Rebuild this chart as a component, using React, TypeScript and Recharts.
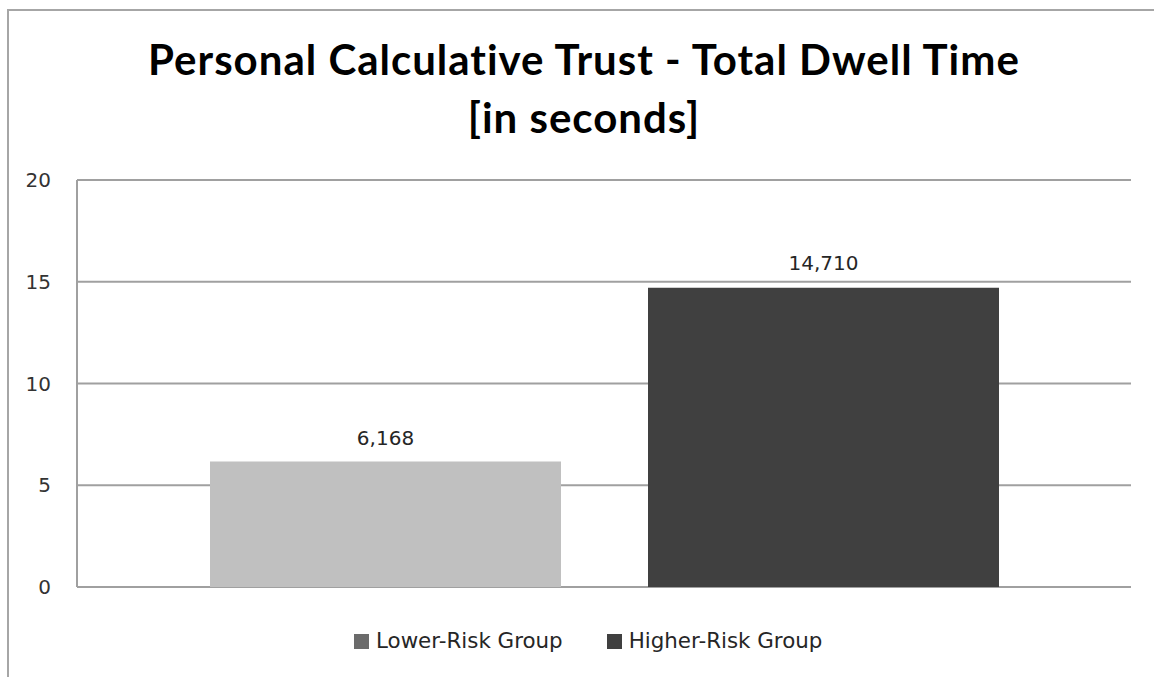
import React from 'react';
import { BarChart, Bar, XAxis, YAxis, CartesianGrid, LabelList, Legend } from 'recharts';

const GROUPS = ['Lower-Risk Group', 'Higher-Risk Group'];
const DWELL_SECONDS = [6.168, 14.71];
const BAR_COLORS = ['#c0c0c0', '#404040'];
const LEGEND_COLORS = ['#6b6b6b', '#404040'];
const Y_TICKS = [0, 5, 10, 15, 20];

// one category row, one key per group so each group is its own series
const data = [
  GROUPS.reduce<Record<string, string | number>>(
    (row, g, i) => ({ ...row, [`g${i}`]: DWELL_SECONDS[i] }),
    { name: 'Total Dwell Time' }
  ),
];

const GRID = '#a0a0a0';
const SANS = '"DejaVu Sans", Verdana, sans-serif';

// comma decimal, three places
const fmt = (v: number) => v.toFixed(3).replace('.', ',');

const LegendBox = () => (
  <div style={{ display: 'flex', alignItems: 'center', fontFamily: SANS, fontSize: 21.4, color: '#262626', lineHeight: '26px' }}>
    {GROUPS.map((g, i) => (
      <span key={g} style={{ display: 'flex', alignItems: 'center', marginRight: i === 0 ? 44 : 0 }}>
        <span style={{ display: 'inline-block', width: 15, height: 15, background: LEGEND_COLORS[i], marginRight: 7 }} />
        {g}
      </span>
    ))}
  </div>
);

export default function App() {
  return (
    <div style={{ position: 'absolute', left: 0, top: 0, width: 1154, height: 677, background: '#fff', overflow: 'hidden' }}>
      <div
        style={{
          position: 'absolute', left: 7, top: 9, width: 1160, height: 680,
          borderTop: '2px solid #a6a6a6', borderLeft: '2px solid #a6a6a6',
        }}
      />
      <div
        style={{
          position: 'absolute', left: 0, top: 30, width: 1168, textAlign: 'center',
          fontFamily: 'Lato, "Open Sans", sans-serif', fontWeight: 700, fontSize: 42,
          letterSpacing: 1, lineHeight: '58px', color: '#000',
        }}
      >
        Personal Calculative Trust - Total Dwell Time
        <br />
        [in seconds]
      </div>
      <BarChart
        width={1154}
        height={677}
        data={data}
        margin={{ top: 180, right: 23, bottom: 90, left: 0 }}
        barGap={87}
        barSize={351}
      >
        <CartesianGrid vertical={false} stroke={GRID} strokeWidth={2} />
        <XAxis dataKey="name" tick={false} height={0} axisLine={{ stroke: GRID, strokeWidth: 2 }} tickLine={false} />
        <YAxis
          width={77}
          domain={[0, 20]}
          ticks={Y_TICKS}
          tickLine={false}
          tickSize={0}
          tickMargin={26}
          axisLine={{ stroke: GRID, strokeWidth: 2 }}
          tick={{ fontFamily: SANS, fontSize: 20, fill: '#333' }}
        />
        <Legend
          verticalAlign="middle"
          align="center"
          content={<LegendBox />}
          wrapperStyle={{ position: 'absolute', top: 628, left: 354, width: 700 }}
        />
        {GROUPS.map((g, i) => (
          <Bar key={g} dataKey={`g${i}`} name={g} fill={BAR_COLORS[i]} isAnimationActive={false}>
            <LabelList
              dataKey={`g${i}`}
              position="top"
              offset={i === 0 ? 16 : 18}
              formatter={(v: number) => fmt(v)}
              style={{ fontFamily: SANS, fontSize: 20, fill: '#262626' }}
            />
          </Bar>
        ))}
      </BarChart>
    </div>
  );
}
